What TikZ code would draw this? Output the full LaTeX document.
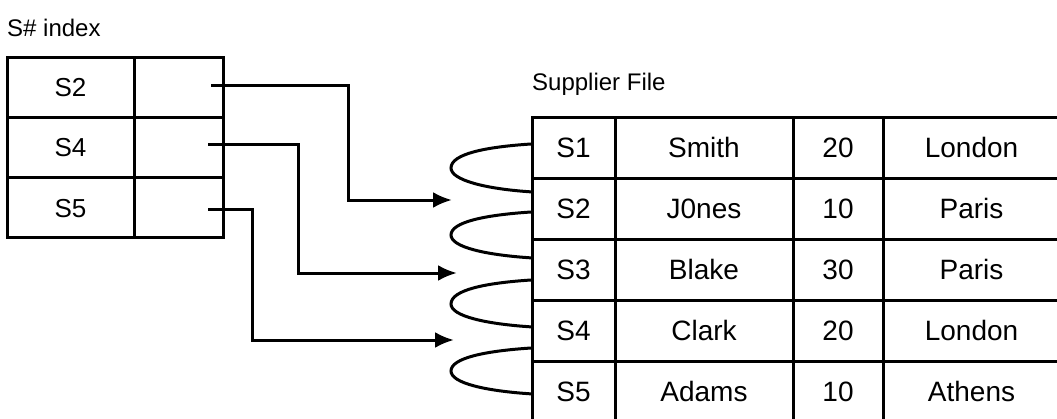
\documentclass[tikz,border=0pt]{standalone}
\usepackage{fontspec}
\setmainfont{Liberation Sans}
\usetikzlibrary{arrows.meta}
\begin{document}
\begin{tikzpicture}[x=1pt,y=-1pt,
  cell/.style={draw, line width=3pt, inner sep=0pt, anchor=center},
  itext/.style={font=\fontsize{26}{30}\selectfont, text height=18.6pt, text depth=0pt},
  stext/.style={font=\fontsize{28}{32}\selectfont, text height=20pt, text depth=0pt},
  lbl/.style={font=\fontsize{24}{28}\selectfont, anchor=base west, inner sep=0pt},
  link/.style={line width=3pt, -{Latex[length=19pt,width=16pt]}},
  loopline/.style={line width=3pt},
]
\useasboundingbox (0,0) rectangle (1057,418);
\clip (0,0) rectangle (1057,418);

% labels
\node[lbl] (lblidx) at (7,36) {S\# index};
\node[lbl] (lblsup) at (532,90) {Supplier File};

% index table
\foreach \y/\t/\n in {87.2/S2/1, 147.5/S4/2, 207.8/S5/3}{
  \node[cell, itext, minimum width=127pt, minimum height=60.3pt] (i\n a) at (70.5,\y) {\t};
  \node[cell, minimum width=89pt, minimum height=60.3pt] (i\n b) at (178.5,\y) {};
}

% supplier table
\foreach \y/\a/\b/\c/\d/\n in {147.5/S1/Smith/20/London/1, 208.5/S2/J0nes/10/Paris/2,
   269.5/S3/Blake/30/Paris/3, 330.5/S4/Clark/20/London/4, 391.5/S5/Adams/10/Athens/5}{
  \node[cell, stext, minimum width=83pt, minimum height=61pt] (s\n a) at (573.5,\y) {\a};
  \node[cell, stext, minimum width=178pt, minimum height=61pt] (s\n b) at (704,\y) {\b};
  \node[cell, stext, minimum width=90pt, minimum height=61pt] (s\n c) at (838,\y) {\c};
  \node[cell, stext, minimum width=177pt, minimum height=61pt] (s\n d) at (971.5,\y) {\d};
}

% pointers
\coordinate (c1) at (211,85);  \coordinate (k1) at (348,0); \coordinate (t1) at (452,200);
\coordinate (c2) at (208,144); \coordinate (k2) at (298,0); \coordinate (t2) at (457,273);
\coordinate (c3) at (208,209); \coordinate (k3) at (252,0); \coordinate (t3) at (454,340);
\draw[link] (c1) -| (k1 |- t1) -- (t1);
\draw[link] (c2) -| (k2 |- t2) -- (t2);
\draw[link] (c3) -| (k3 |- t3) -- (t3);

% chain loops
\foreach \top/\bot/\tip/\n in {144/192/168/1, 212/258/235/2, 280/327/304/3, 348/394/371/4}{
  \coordinate (la\n) at (531,\top);
  \coordinate (lb\n) at (533,\bot);
  \draw[loopline] (la\n) .. controls (485,\top+3) and (451,\top+10) .. (451,\tip)
     .. controls (451,\tip+12) and (485,\bot-3) .. (lb\n);
}
\end{tikzpicture}
\end{document}
